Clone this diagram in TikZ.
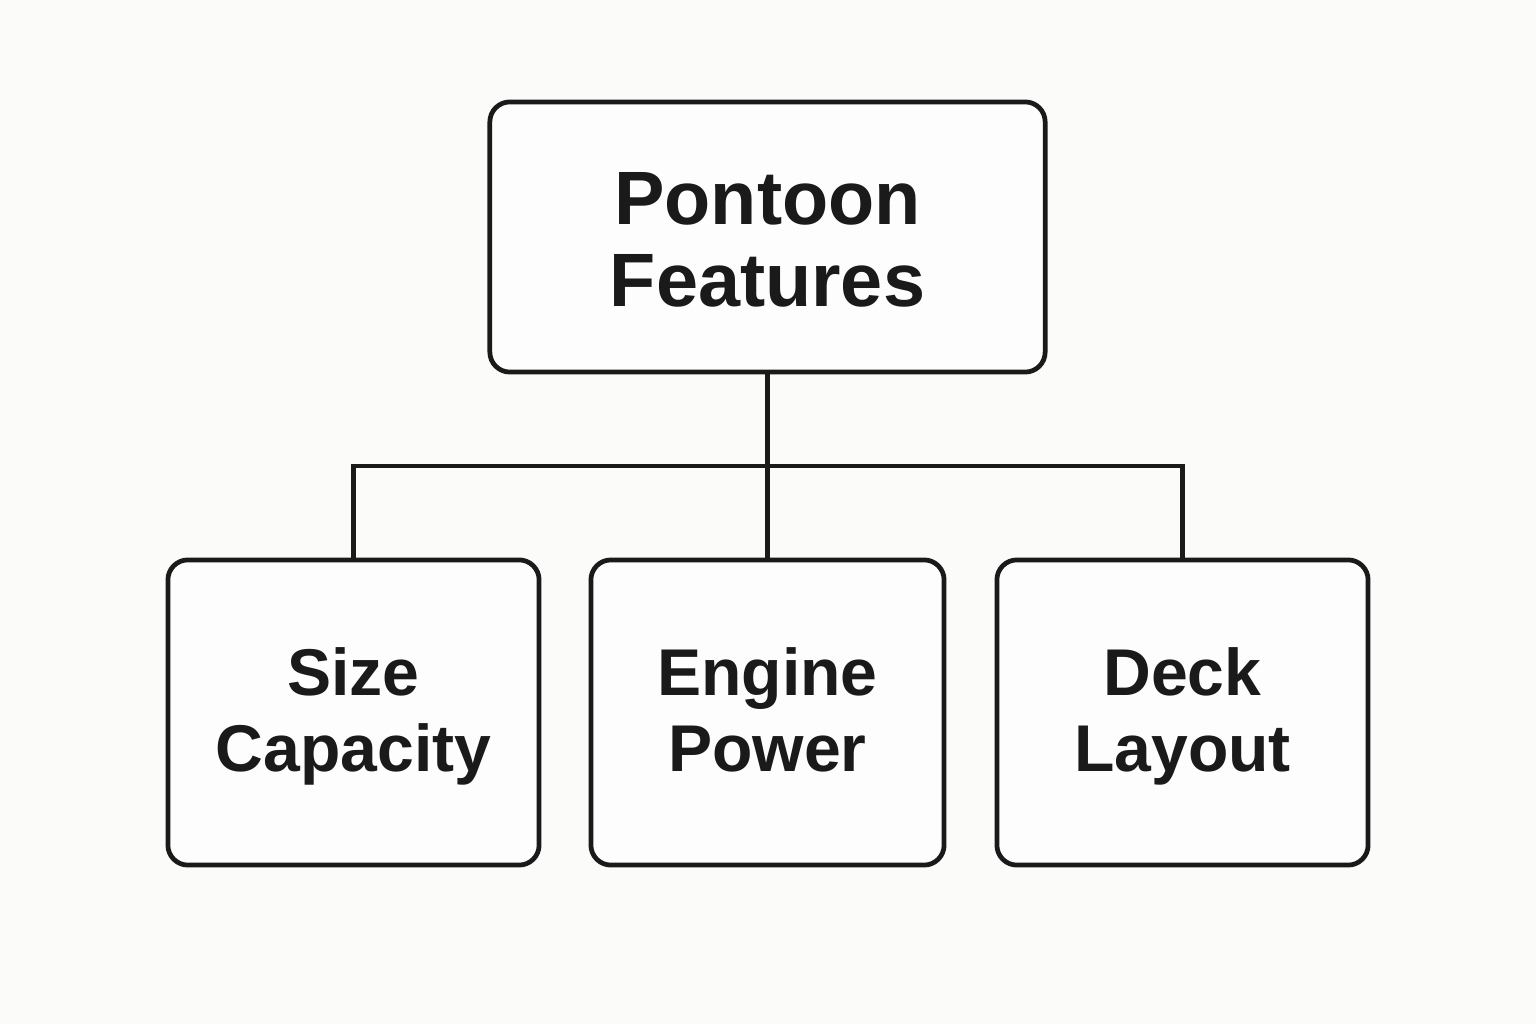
\documentclass[tikz,border=0pt]{standalone}
\usepackage{fontspec}
\setmainfont{Liberation Sans}
\definecolor{bg}{HTML}{FBFBF9}
\definecolor{ink}{HTML}{1A1A1A}
\begin{document}
\begin{tikzpicture}[x=0.01cm,y=-0.01cm,
  box/.style={draw=ink,line width=1.35pt,rounded corners=0.2cm,fill=white!60!bg,inner sep=0pt},
  topbox/.style={box,minimum width=5.55cm,minimum height=2.70cm},
  subbox/.style={box,minimum height=3.05cm},
  toptxt/.style={text=ink,align=center,inner sep=0pt,font=\bfseries\fontsize{21.5}{23.5}\selectfont},
  subtxt/.style={text=ink,align=center,inner sep=0pt,font=\bfseries\fontsize{18.8}{21.8}\selectfont},
  link/.style={draw=ink,line width=1.3pt}]
\fill[bg] (0,0) rectangle (1536,1024);
\useasboundingbox (0,0) rectangle (1536,1024);
\node[topbox] (top) at (767.5,237) {};
\node[subbox,minimum width=3.71cm] (a) at (353.5,712.5) {};
\node[subbox,minimum width=3.53cm] (b) at (767.5,712.5) {};
\node[subbox,minimum width=3.71cm] (c) at (1182.5,712.5) {};
\node[toptxt] (topt) at (767.5,249) {\strut Pontoon\\Features\strut};
\node[subtxt] (at) at (353.5,718) {\strut Size\\Capacity\strut};
\node[subtxt] (bt) at (767.5,718) {\strut Engine\\Power\strut};
\node[subtxt] (ct) at (1182.5,718) {\strut Deck\\Layout\strut};
\coordinate (j) at (767.5,466);
\draw[link] (top.south) -- (b.north);
\draw[link] (a.north) -- (a.north |- j) -- (c.north |- j) -- (c.north);
\end{tikzpicture}
\end{document}
